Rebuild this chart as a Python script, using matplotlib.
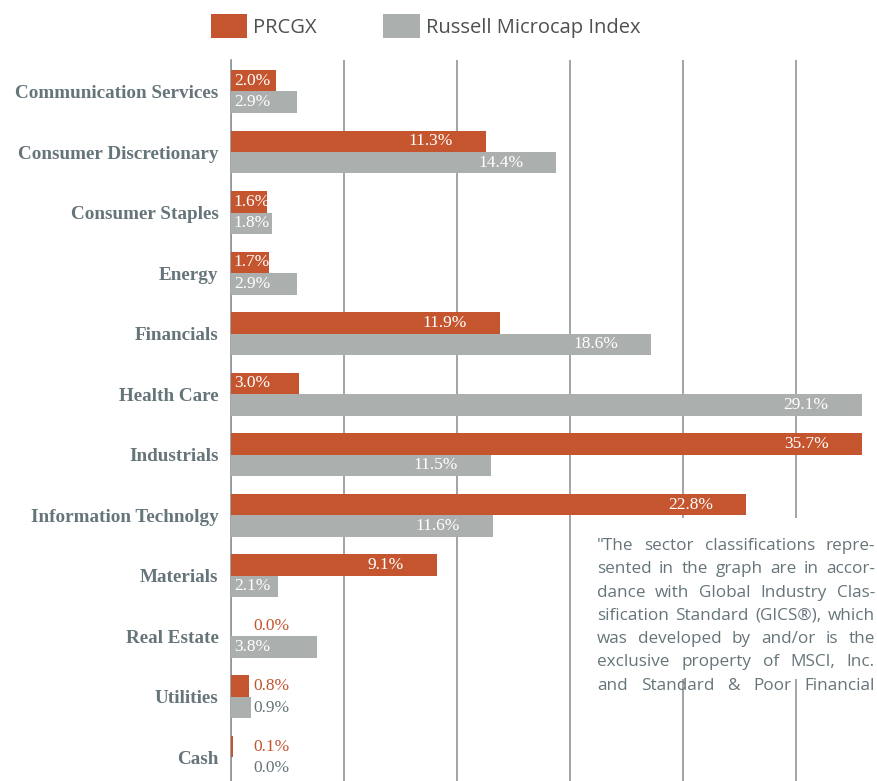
import numpy as np
import matplotlib
matplotlib.use("Agg")
import matplotlib.pyplot as plt
from matplotlib.patches import Rectangle

# dados
setores = ["Communication Services", "Consumer Discretionary", "Consumer Staples",
           "Energy", "Financials", "Health Care", "Industrials",
           "Information Technolgy", "Materials", "Real Estate", "Utilities", "Cash"]
prcgx = [2.0, 11.3, 1.6, 1.7, 11.9, 3.0, 35.7, 22.8, 9.1, 0.0, 0.8, 0.1]
russell = [2.9, 14.4, 1.8, 2.9, 18.6, 29.1, 11.5, 11.6, 2.1, 3.8, 0.9, 0.0]
series_names = ["PRCGX", "Russell Microcap Index"]

nota = ['"The sector classifications repre-',
        'sented in the graph are in accor-',
        'dance with Global Industry Clas-',
        'sification Standard (GICS\u00ae), which',
        'was developed by and/or is the',
        'exclusive property of MSCI, Inc.',
        'and Standard & Poor Financial']

LARANJA = "#c4552f"
CINZA = "#abafae"
TEXTO = "#66757a"
GRADE = "#8e9598"

W, H = 877, 781
fig = plt.figure(figsize=(W / 100, H / 100), dpi=100)
ax = fig.add_axes([231 / W, 0, (862 - 231) / W, 1 - 60 / H])

xmax = (862 - 231) / 22.6
y = np.arange(len(setores))
h = 0.354
b1 = ax.barh(y - h / 2, prcgx, height=h, color=LARANJA, label=series_names[0], zorder=3)
b2 = ax.barh(y + h / 2, russell, height=h, color=CINZA, label=series_names[1], zorder=3)

ax.set_xlim(0, xmax)
ax.set_ylim(11.39, -0.52)
ax.set_xticks([0, 5, 10, 15, 20, 25])
ax.tick_params(axis="x", length=0, labelbottom=False)
ax.grid(axis="x", color=GRADE, lw=1.2, zorder=0)
for s in ["top", "right", "bottom"]:
    ax.spines[s].set_visible(False)
ax.spines["left"].set_color(GRADE)
ax.spines["left"].set_linewidth(1.2)

ax.set_yticks(y)
ax.set_yticklabels(setores, fontfamily="Liberation Serif", fontweight="bold",
                   fontsize=13.8, color=TEXTO)
ax.tick_params(axis="y", length=0, pad=9)

# rótulos de valor
def rotular(vals, pos, cor_fora):
    for v, yy in zip(vals, pos):
        txt = f"{v:.1f}%"
        if v >= 5:
            ax.annotate(txt, (min(v, xmax), yy), xytext=(-24, 0), textcoords="offset points",
                        ha="right", va="center", color="white", fontsize=12.5,
                        fontfamily="Liberation Serif", zorder=4)
        elif v >= 1.5:
            ax.annotate(txt, (0, yy), xytext=(2, 0), textcoords="offset points",
                        ha="left", va="center", color="white", fontsize=12.5,
                        fontfamily="Liberation Serif", zorder=4)
        else:
            ax.annotate(txt, (0, yy), xytext=(16, 0), textcoords="offset points",
                        ha="left", va="center", color=cor_fora, fontsize=12.5,
                        fontfamily="Liberation Serif", zorder=4)

rotular(prcgx, y - h / 2, LARANJA)
rotular(russell, y + h / 2, TEXTO)

fig.legend(handles=[b1, b2], loc="upper left", bbox_to_anchor=(211 / W, 1 - 14 / H),
           ncol=2, frameon=False, borderpad=0, borderaxespad=0,
           handlelength=1.8, handleheight=1.45, handletextpad=0.3, columnspacing=3.3,
           prop={"family": "Open Sans", "size": 14.5}, labelcolor="#4d4f51")

# caixa branca da nota por cima da grade
fig.patches.append(Rectangle((590 / W, 1 - 679 / H), (W - 590) / W, (679 - 518) / H,
                             transform=fig.transFigure, facecolor="white",
                             edgecolor="none", zorder=5))

# nota justificada
renderer = fig.canvas.get_renderer()
x0, x1 = 597, 875
for k, linha in enumerate(nota):
    palavras = linha.split(" ")
    textos = [fig.text(0, 0, p, fontfamily="Open Sans", fontsize=12.3, color=TEXTO,
                       va="baseline", zorder=6) for p in palavras]
    larg = [t.get_window_extent(renderer).width for t in textos]
    gap = (x1 - x0 - sum(larg)) / max(len(palavras) - 1, 1)
    x = x0
    for t, w in zip(textos, larg):
        t.set_position((x / W, 1 - (550 + k * 23.3) / H))
        x += w + gap

fig.savefig("out.png", dpi=100)
